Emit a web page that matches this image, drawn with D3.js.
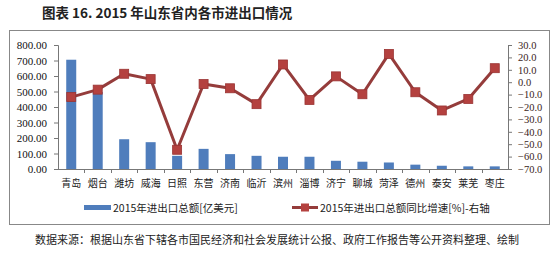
<!DOCTYPE html>
<html>
<head>
<meta charset="utf-8">
<script src="https://cdn.jsdelivr.net/npm/d3@7"></script>
<style>
  body { margin: 0; background: #fff; }
  svg { display: block; }
  .cjk { font-family: "Noto Sans CJK SC", sans-serif; }
  .num { font-family: "Liberation Serif", serif; }
</style>
</head>
<body>
<div id="chart"></div>
<script>
var cities = ['青岛', '烟台', '潍坊', '威海', '日照', '东营', '济南', '临沂', '滨州',
    '淄博', '济宁', '聊城', '菏泽', '德州', '泰安', '莱芜', '枣庄'];
var totals = [705, 497, 192, 173, 85, 130, 96, 85, 79, 79, 53, 47, 42, 28, 21, 17, 17];
var growth = [-12, -6, 6.8, 2.5, -54.5, -1.5, -4.9, -17.7, 14.3, -14.3, 4.7, -9.7, 22.8, -8.1, -22.8, -13.5, 11.3];
var leftTicks = [0, 100, 200, 300, 400, 500, 600, 700, 800];
var rightTicks = [30, 20, 10, 0, -10, -20, -30, -40, -50, -60, -70];

var W = 558, H = 258;
var plotLeft = 58, plotRight = 508, plotTop = 45, plotBottom = 169;

var svg = d3.select('#chart').append('svg')
    .attr('width', W)
    .attr('height', H);

// title
svg.append('text')
    .attr('class', 'cjk')
    .attr('x', 42)
    .attr('y', 18)
    .attr('font-size', 13.5)
    .attr('font-weight', 'bold')
    .attr('fill', '#222')
    .text('图表 16. 2015 年山东省内各市进出口情况');

// frame
svg.append('rect')
    .attr('x', 9.5)
    .attr('y', 30.5)
    .attr('width', 540)
    .attr('height', 194)
    .attr('fill', 'none')
    .attr('stroke', '#888')
    .attr('stroke-width', 1);

var x = d3.scaleBand()
    .domain(cities)
    .range([plotLeft, plotRight]);

var y = d3.scaleLinear()
    .domain([0, 800])
    .range([plotBottom, plotTop]);

var y2 = d3.scaleLinear()
    .domain([-70, 30])
    .range([plotBottom, plotTop]);

// left axis
var la = svg.append('g')
    .attr('transform', 'translate(' + plotLeft + ',0)')
    .call(d3.axisLeft(y).tickValues(leftTicks).tickFormat(d3.format('.2f')).tickSize(4).tickPadding(7));
la.selectAll('text').attr('class', 'num').attr('font-size', 11).attr('fill', '#111');

// right axis
var ra = svg.append('g')
    .attr('transform', 'translate(' + plotRight + ',0)')
    .call(d3.axisRight(y2).tickValues(rightTicks).tickFormat(d3.format('.1f')).tickSize(4).tickPadding(6));
ra.selectAll('text').attr('class', 'num').attr('font-size', 10.5).attr('fill', '#3a1e22');

svg.selectAll('.domain, .tick line').attr('stroke', '#777');

// category axis
svg.append('line')
    .attr('x1', plotLeft).attr('x2', plotRight)
    .attr('y1', plotBottom + 0.5).attr('y2', plotBottom + 0.5)
    .attr('stroke', '#777');

svg.append('g').selectAll('line')
    .data(cities.slice(1))
    .join('line')
    .attr('x1', function(d) { return Math.round(x(d)) + 0.5; })
    .attr('x2', function(d) { return Math.round(x(d)) + 0.5; })
    .attr('y1', plotBottom)
    .attr('y2', plotBottom + 4)
    .attr('stroke', '#777');

svg.append('g').selectAll('text')
    .data(cities)
    .join('text')
    .attr('class', 'cjk')
    .attr('x', function(d) { return x(d) + x.bandwidth() / 2; })
    .attr('y', 187)
    .attr('text-anchor', 'middle')
    .attr('font-size', 10)
    .attr('fill', '#222')
    .text(function(d) { return d; });

// bars
var bw = 10;
svg.append('g').selectAll('rect')
    .data(totals)
    .join('rect')
    .attr('x', function(d, i) { return x(cities[i]) + x.bandwidth() / 2 - bw / 2; })
    .attr('y', function(d) { return y(d); })
    .attr('width', bw)
    .attr('height', function(d) { return plotBottom - y(d); })
    .attr('fill', '#4f7dbc');

// growth line
var line = d3.line()
    .x(function(d, i) { return x(cities[i]) + x.bandwidth() / 2; })
    .y(function(d) { return y2(d); });

svg.append('path')
    .datum(growth)
    .attr('d', line)
    .attr('fill', 'none')
    .attr('stroke', '#953c3b')
    .attr('stroke-width', 3)
    .attr('stroke-linejoin', 'round');

var ms = 9;
svg.append('g').selectAll('rect')
    .data(growth)
    .join('rect')
    .attr('x', function(d, i) { return x(cities[i]) + x.bandwidth() / 2 - ms / 2; })
    .attr('y', function(d) { return y2(d) - ms / 2; })
    .attr('width', ms)
    .attr('height', ms)
    .attr('fill', '#b4413f')
    .attr('stroke', '#9a3433')
    .attr('stroke-width', 0.8);

// legend
svg.append('rect')
    .attr('x', 84).attr('y', 205)
    .attr('width', 27).attr('height', 5)
    .attr('fill', '#4f7dbc');
svg.append('text')
    .attr('class', 'cjk')
    .attr('x', 113).attr('y', 211.5)
    .attr('font-size', 10.5)
    .attr('fill', '#222')
    .text('2015年进出口总额[亿美元]');

svg.append('line')
    .attr('x1', 292).attr('x2', 318)
    .attr('y1', 207.5).attr('y2', 207.5)
    .attr('stroke', '#953c3b')
    .attr('stroke-width', 3);
svg.append('rect')
    .attr('x', 301).attr('y', 203.5)
    .attr('width', 8).attr('height', 8)
    .attr('fill', '#b4413f');
svg.append('text')
    .attr('class', 'cjk')
    .attr('x', 320).attr('y', 211.5)
    .attr('font-size', 10.5)
    .attr('fill', '#222')
    .text('2015年进出口总额同比增速[%]-右轴');

// source
svg.append('text')
    .attr('class', 'cjk')
    .attr('x', 35).attr('y', 244)
    .attr('font-size', 11)
    .attr('fill', '#222')
    .text('数据来源：根据山东省下辖各市国民经济和社会发展统计公报、政府工作报告等公开资料整理、绘制');
</script>
</body>
</html>
